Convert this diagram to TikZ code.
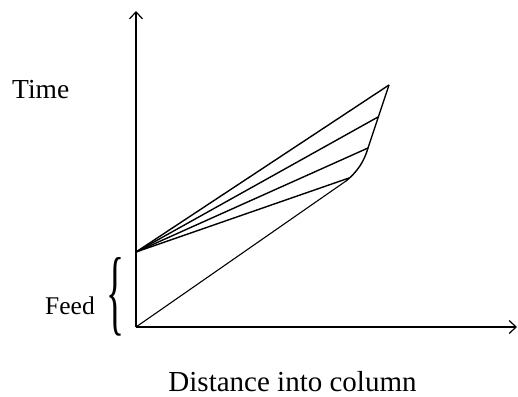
\documentclass[tikz,border=0pt]{standalone}
\usepackage{fontspec}
\setmainfont{Liberation Serif}
\usetikzlibrary{arrows.meta}
\begin{document}
\begin{tikzpicture}[x=1pt,y=-1pt,
  axis/.style={line width=1.4pt,-{Straight Barb[length=7pt,width=13pt,line width=1.2pt]}},
  fanline/.style={line width=1.4pt},
  thinline/.style={line width=1.1pt},
  lbl/.style={inner sep=0pt,anchor=base west}]
\useasboundingbox (0,0) rectangle (518,396);
\coordinate (O) at (136,327);
\coordinate (Ytop) at (136,11);
\coordinate (Xend) at (517,327);
\coordinate (A) at (136,252);
\coordinate (P1) at (389,85);
\coordinate (P2) at (378,117);
\coordinate (P3) at (368,148);
\coordinate (P4) at (349,178);
\coordinate (B) at (346,181);
\draw[axis] (O) -- (Ytop);
\draw[axis] (O) -- (Xend);
\draw[fanline] (A) -- (P1);
\draw[fanline] (A) -- (P2);
\draw[fanline] (A) -- (P3);
\draw[fanline] (A) -- (P4);
\draw[thinline] (O) -- (B);
\draw[fanline,line join=round] (B) .. controls (357,172) and (364,162) .. (P3) -- (P1);
\node[lbl,font=\fontsize{27.5}{32}\selectfont] (time) at (12,98) {Time};
\node[lbl,font=\fontsize{25.5}{30}\selectfont] (feed) at (45,314) {Feed};
\node[lbl,anchor=base,font=\fontsize{29}{34}\selectfont] (dist) at (292.5,391) {Distance into column};
\node[inner sep=0pt] (brace) at (115,297) {\resizebox{18pt}{66pt}{\{}};
\end{tikzpicture}
\end{document}
